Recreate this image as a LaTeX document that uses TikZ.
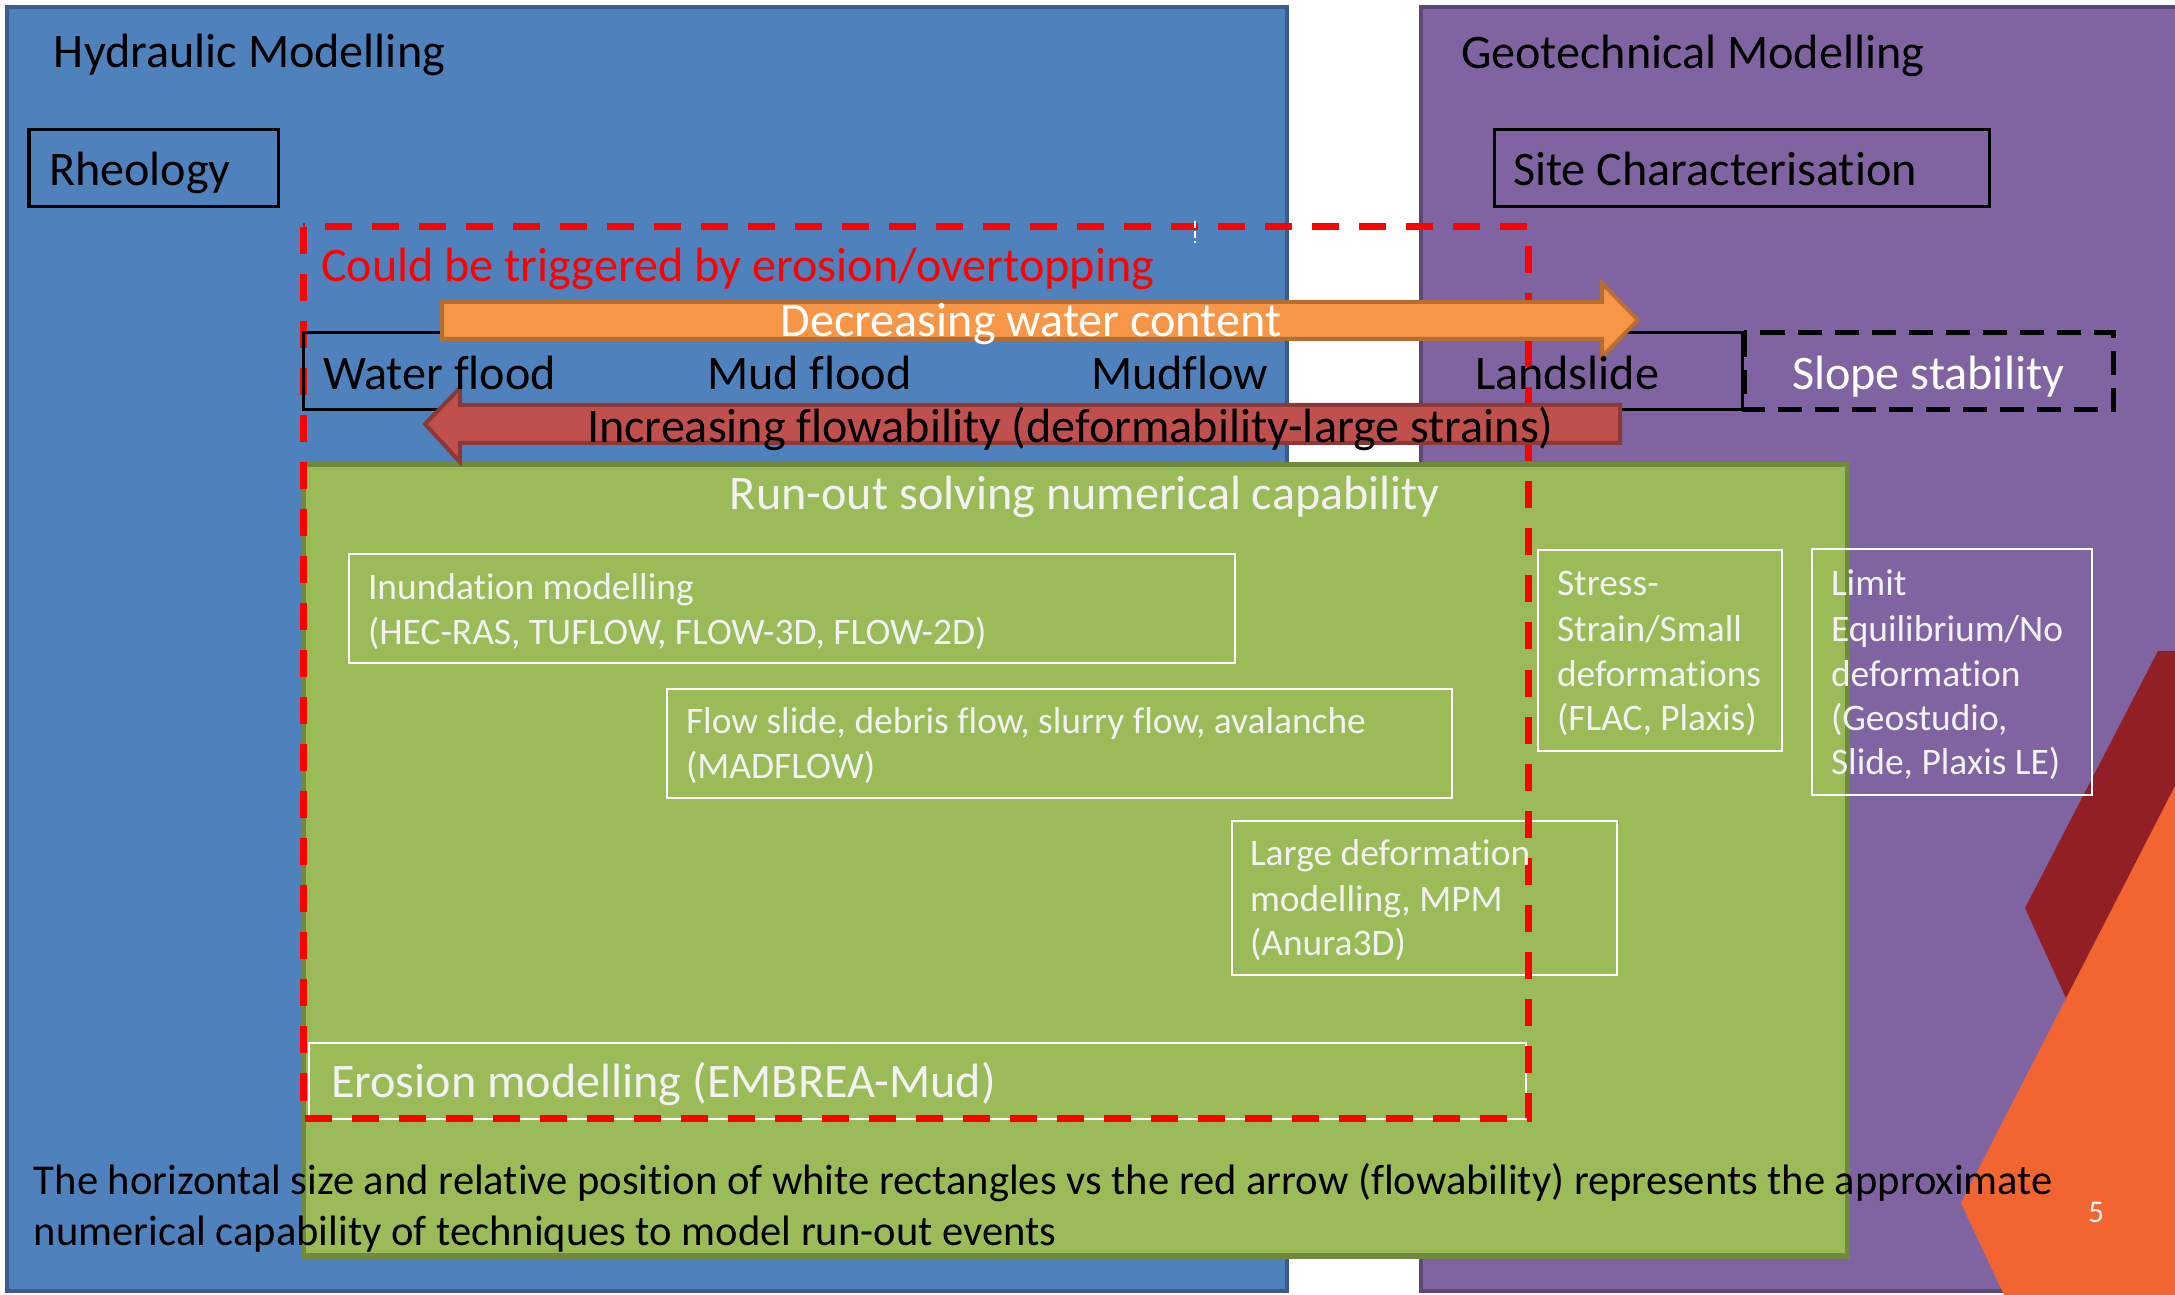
\documentclass[tikz,border=0pt]{standalone}
\usepackage{fontspec}
\setmainfont{Carlito}[Ligatures={NoCommon}]
\definecolor{panelblue}{HTML}{4F81BD}
\definecolor{panelblueb}{HTML}{385D8A}
\definecolor{panelpurple}{HTML}{8064A2}
\definecolor{panelpurpleb}{HTML}{5C4776}
\definecolor{boxgreen}{HTML}{9BBB59}
\definecolor{boxgreenb}{HTML}{71893F}
\definecolor{arrorange}{HTML}{F79646}
\definecolor{arrorangeb}{HTML}{B66D31}
\definecolor{arrred}{HTML}{C0504D}
\definecolor{arrredb}{HTML}{8C3836}
\definecolor{decodark}{HTML}{921F26}
\definecolor{decoorange}{HTML}{F26531}
\definecolor{offwhite}{HTML}{F2F2F2}
\newcommand\fbig{\fontsize{13.7pt}{16pt}\selectfont}
\newcommand\fsmall{\fontsize{10.65pt}{12.6pt}\selectfont}
\newcommand\ffoot{\fontsize{12.1pt}{14pt}\selectfont}
\newcommand\fpage{\fontsize{9pt}{11pt}\selectfont}
\begin{document}
\begin{tikzpicture}[x=0.01cm,y=-0.01cm,
  txt/.style={inner sep=0pt,outer sep=0pt,anchor=base west},
  bigtxt/.style={txt,font=\fbig},
  smalltxt/.style={txt,font=\fsmall,text=offwhite},
  foottxt/.style={txt,font=\ffoot},
  blackbox/.style={draw=black,line width=0.03cm},
  whitebox/.style={draw=white,line width=0.022cm},
  reddash/.style={draw=red,line width=0.07cm,dash pattern=on 0.27cm off 0.2cm},
  blackdash/.style={draw=black,line width=0.05cm,dash pattern=on 0.24cm off 0.13cm}]
\clip (0,0) rectangle (2175,1295);
\fill[white] (0,0) rectangle (2175,1295);
% panels
\filldraw[fill=panelblue,draw=panelblueb,line width=0.04cm] (7,7) rectangle (1287,1291);
\filldraw[fill=panelpurple,draw=panelpurpleb,line width=0.04cm] (1421,7) rectangle (2260,1291);
% decorative shapes
\fill[decodark] (2158,651) -- (2260,651) -- (2260,1250) -- (2110,1095) -- (2025,908) -- cycle;
\fill[decoorange] (2175,786) -- (1961,1203) -- (2004,1295) -- (2260,1295) -- (2260,786) -- cycle;
% green box
\filldraw[fill=boxgreen,draw=boxgreenb,line width=0.05cm] (303,465) rectangle (1847,1256);
% white boxes
\draw[whitebox] (349,554) rectangle (1235,663);
\draw[whitebox] (667,689) rectangle (1452,798);
\draw[whitebox] (1232,821) rectangle (1617,975);
\draw[whitebox] (1538,550) rectangle (1782,751);
\draw[whitebox] (1812,549) rectangle (2092,795);
\draw[whitebox] (309,1043) rectangle (1526,1119);
% red dashed box
\draw[reddash] (303,227) rectangle (1528,1119);
\draw[white,line width=0.012cm,dash pattern=on 0.07cm off 0.03cm] (1195,221) -- (1195,243);
% black boxes
\draw[blackbox] (29,130) rectangle (278,207);
\draw[blackbox] (1494,130) rectangle (1989,207);
\draw[blackbox] (303,333) rectangle (1742,410);
\draw[blackdash] (1744,333) rectangle (2113,410);
% block arrows
\filldraw[fill=arrorange,draw=arrorangeb,line width=0.04cm,line join=miter]
  (442,302) -- (1602,302) -- (1602,283) -- (1638,320) -- (1602,357) -- (1602,339) -- (442,339) -- cycle;
\filldraw[fill=arrred,draw=arrredb,line width=0.04cm,line join=miter]
  (1620,405) -- (460,405) -- (460,388) -- (425,424) -- (460,462) -- (460,443) -- (1620,443) -- cycle;
% texts
\node[bigtxt] (hyd) at (54,68) {Hydraulic Modelling};
\node[bigtxt] (geo) at (1461,69) {Geotechnical Modelling};
\node[bigtxt] (rheo) at (49,186) {Rheology};
\node[bigtxt] (site) at (1513,186) {Site Characterisation};
\node[bigtxt,text=red] (trig) at (321,282) {Could be triggered by erosion/overtopping};
\node[bigtxt,text=white,anchor=base] (dec) at (1031,337) {Decreasing water content};
\node[bigtxt] (wf) at (323,390) {Water flood};
\node[bigtxt] (mf) at (707,390) {Mud flood};
\node[bigtxt] (mfl) at (1091,390) {Mudflow};
\node[bigtxt] (ls) at (1475,390) {Landslide};
\node[bigtxt,text=white] (ss) at (1792,390) {Slope stability};
\node[bigtxt] (inc) at (587,443) {Increasing flowability (deformability-large strains)};
\node[bigtxt,text=offwhite,anchor=base] (run) at (1085,510) {Run-out solving numerical capability};
\node[smalltxt] (in1) at (368,600) {Inundation modelling};
\node[smalltxt] (in2) at (368,645) {(HEC-RAS, TUFLOW, FLOW-3D, FLOW-2D)};
\node[smalltxt] (fs1) at (686,734) {Flow slide, debris flow, slurry flow, avalanche};
\node[smalltxt] (fs2) at (686,779) {(MADFLOW)};
\node[smalltxt] (ld1) at (1250,866) {Large deformation};
\node[smalltxt] (ld2) at (1250,912) {modelling, MPM};
\node[smalltxt] (ld3) at (1250,956) {(Anura3D)};
\node[smalltxt] (st1) at (1557,596) {Stress-};
\node[smalltxt] (st2) at (1557,642) {Strain/Small};
\node[smalltxt] (st3) at (1557,687) {deformations};
\node[smalltxt] (st4) at (1557,731) {(FLAC, Plaxis)};
\node[smalltxt] (le1) at (1831,596) {Limit};
\node[smalltxt] (le2) at (1831,642) {Equilibrium/No};
\node[smalltxt] (le3) at (1831,687) {deformation};
\node[smalltxt] (le4) at (1831,731) {(Geostudio,};
\node[smalltxt] (le5) at (1831,775) {Slide, Plaxis LE)};
\node[bigtxt,text=offwhite] (ero) at (331,1098) {Erosion modelling (EMBREA-Mud)};
\node[foottxt] (ft1) at (34,1195) {The horizontal size and relative position of white rectangles vs the red arrow (flowability) represents the approximate};
\node[foottxt] (ft2) at (34,1245) {numerical capability of techniques to model run-out events};
\node[txt,font=\fpage,text=offwhite] (pg) at (2088,1223) {5};
\end{tikzpicture}
\end{document}
